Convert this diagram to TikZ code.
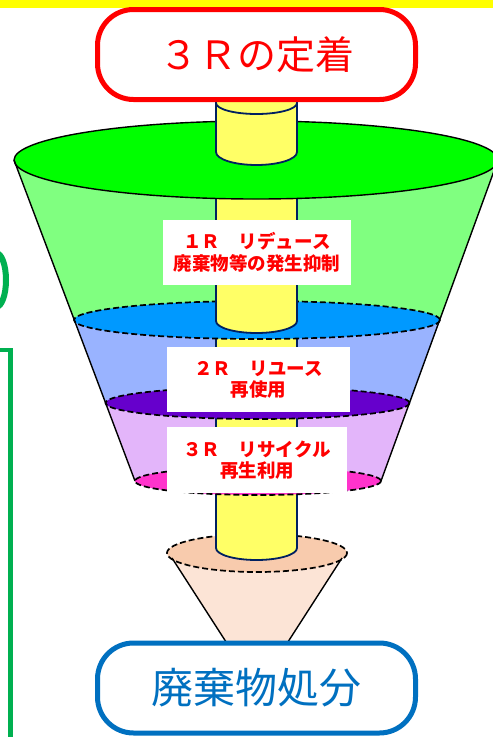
\documentclass[tikz,border=0pt]{standalone}
\usepackage{fontspec}
\newfontfamily\jp{Noto Sans CJK JP}
\usetikzlibrary{positioning}

\definecolor{topband}{HTML}{FFFF00}
\definecolor{pipeyellow}{HTML}{FFFF66}
\definecolor{pipeline}{HTML}{002060}
\definecolor{rimgreen}{HTML}{00FF00}
\definecolor{bandgreen}{HTML}{80FF80}
\definecolor{rimblue}{HTML}{0099FF}
\definecolor{bandblue}{HTML}{99B3FF}
\definecolor{rimpurple}{HTML}{6600CC}
\definecolor{bandlilac}{HTML}{E3B5FA}
\definecolor{rimpink}{HTML}{FF33CC}
\definecolor{rimpeach}{HTML}{F8CBAD}
\definecolor{bandpeach}{HTML}{FCE4D6}
\definecolor{disposalblue}{HTML}{0070C0}
\definecolor{framegreen}{HTML}{00B050}

\begin{document}
\begin{tikzpicture}[
            x=1pt,
            y=-1pt,
            semithick,
            font=\jp
        ]
        \tikzstyle{pipe}=[fill=pipeyellow, draw=pipeline, line width=1.8pt]
        \tikzstyle{rim}=[draw=black, line width=1.7pt, dash pattern=on 6pt off 3pt]
        \tikzstyle{side}=[draw=black, line width=1.4pt]
        \tikzstyle{bubble}=[draw, fill=white, rounded corners=36pt, line width=5pt,
            minimum width=318pt, minimum height=90pt, inner sep=0pt]
        \tikzstyle{tag}=[fill=white, text=red, align=center, inner sep=0pt,
            font=\jp\bfseries\fontsize{18.5}{21.5}\selectfont]

        \useasboundingbox (0,0) rectangle (493,737);
        \fill[topband] (0,0) rectangle (493,8);

        % coloured bands of the big funnel
        \fill[bandgreen] (14,160) -- (74,320) arc[start angle=180, end angle=0, x radius=183, y radius=19] -- (498,160) -- cycle;
        \fill[bandblue] (74,320) -- (106,403) arc[start angle=180, end angle=0, x radius=152, y radius=16] -- (440,320) -- cycle;
        \fill[bandlilac] (106,403) -- (135,481) arc[start angle=180, end angle=0, x radius=123, y radius=14] -- (409,403) -- cycle;

        % small funnel at the bottom
        \fill[bandpeach] (172,558) -- (257,690) -- (342,558) -- cycle;
        \draw[rim, fill=rimpeach] (257,553) ellipse[x radius=90, y radius=19];

        % pipe running through the lower bands
        \draw[pipe] (216,330) -- (216,548) arc[start angle=180, end angle=0, x radius=40.5, y radius=12] -- (297,330);

        \draw[rim, fill=rimblue] (257,320) ellipse[x radius=183, y radius=19];
        \draw[rim, fill=rimpurple] (257.5,403) ellipse[x radius=152, y radius=16];
        \draw[rim, fill=rimpink] (258,481) ellipse[x radius=123, y radius=14];

        % pipe inside the first band
        \draw[pipe] (216,190) -- (216,321) arc[start angle=180, end angle=0, x radius=40.5, y radius=12] -- (297,190);

        \draw[side, fill=rimgreen] (256,160) ellipse[x radius=242, y radius=39];

        % pipe on top of the funnel
        \fill[pipeyellow] (216,95) -- (216,152) arc[start angle=180, end angle=0, x radius=40.5, y radius=13] -- (297,95) -- cycle;
        \draw[pipe, fill=none] (216,95) -- (216,152) arc[start angle=180, end angle=0, x radius=40.5, y radius=13] -- (297,95);
        \draw[pipe, fill=none] (216,103) arc[start angle=180, end angle=0, x radius=40.5, y radius=11];

        \draw[side] (14,160) -- (135,481);
        \draw[side] (498,160) -- (381,481);
        \draw[side] (172,558) -- (257,690) -- (342,558);

        \node[bubble, draw=red, text=red, font=\jp\fontsize{39}{44}\selectfont] (goal) at (256.5,54.5) {３Ｒの定着};
        \node[bubble, draw=disposalblue, text=disposalblue, font=\jp\fontsize{42}{46}\selectfont] (disposal) at (256.5,688) {廃棄物処分};

        \node[tag, minimum width=188pt, minimum height=65pt] (r1) at (257,252.5) {１Ｒ　リデュース\\廃棄物等の発生抑制};
        \node[tag, minimum width=183pt, minimum height=65pt] (r2) at (258.5,379.5) {２Ｒ　リユース\\再使用};
        \node[tag, minimum width=180pt, minimum height=66pt] (r3) at (257,460) {３Ｒ　リサイクル\\再生利用};

        % frame and lettering cut off at the left edge
        \draw[framegreen, line width=6pt] (-4,253) arc[start angle=-90, end angle=90, x radius=10, y radius=27];
        \draw[framegreen, line width=4.5pt, line join=miter] (-5,350) -- (10.5,350) -- (10.5,745);
    \end{tikzpicture}
\end{document}
